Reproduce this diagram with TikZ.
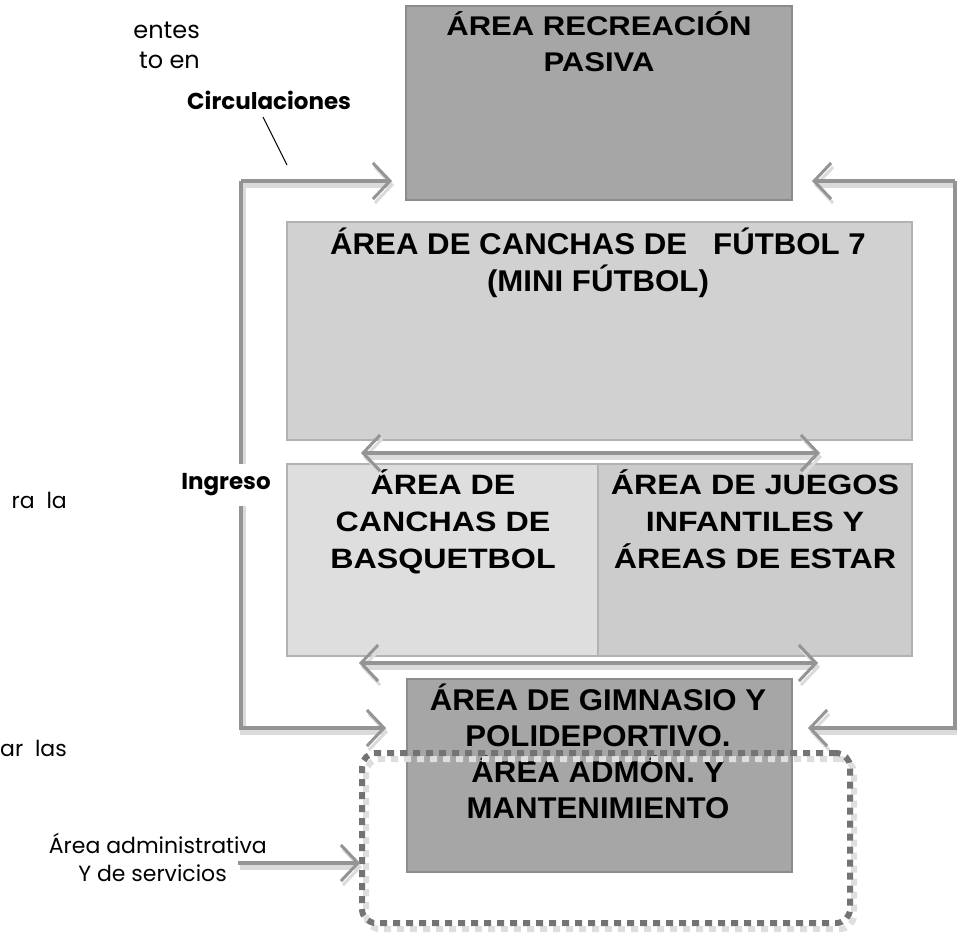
\documentclass[tikz,border=0pt]{standalone}
\usepackage{fontspec}
\setmainfont{Liberation Sans}
\newfontfamily\gothic{Poppins}
\newfontfamily\widesans[FakeStretch=1.15]{Liberation Sans}
\newfontfamily\narrowsans[FakeStretch=1.04]{Liberation Sans}
\usetikzlibrary{arrows.meta}

\tikzset{
  zone/.style={draw=black!30,line width=1.5pt,inner sep=0pt},
  darkzone/.style={zone,fill=black!35,draw=black!45},
  title/.style={anchor=north,align=center,inner sep=0pt},
  widetitle/.style={title,font=\widesans\bfseries\fontsize{27}{36}\selectfont},
  narrowtitle/.style={title,font=\narrowsans\bfseries\fontsize{30}{37}\selectfont},
  note/.style={inner sep=0pt,font=\gothic\fontsize{22}{26}\selectfont},
  boldnote/.style={inner sep=0pt,font=\gothic\bfseries\fontsize{23}{28}\selectfont},
  flow/.style={draw=black!42,line width=3.5pt,
    preaction={draw=black!14,line width=6pt,transform canvas={shift={(2pt,-4pt)}}}},
  flowto/.style={flow,-{Straight Barb[length=17pt,width=36pt,line width=3pt]}},
  twoway/.style={flow,{Straight Barb[length=17pt,width=36pt,line width=3pt]}-{Straight Barb[length=17pt,width=36pt,line width=3pt]}}
}

\begin{document}
\begin{tikzpicture}[x=1pt,y=-1pt]
\useasboundingbox (0,0) rectangle (957,932);

% texto del documento
\node[note,anchor=east,font=\gothic\fontsize{24}{28}\selectfont] (entes) at (200,30) {entes};
\node[note,anchor=east,font=\gothic\fontsize{24}{28}\selectfont] (toen) at (200,60) {to en};
\node[note,anchor=east] (rala) at (67,500) {ra\ \ la};
\node[note,anchor=east] (arlas) at (67,748) {ar\ \ las};

% zonas
\node[darkzone,minimum width=386,minimum height=194] (pasiva) at (599,103) {};
\node[zone,fill=black!18,minimum width=625,minimum height=218] (futbol) at (599.5,331) {};
\node[zone,fill=black!13,minimum width=311,minimum height=192] (basquet) at (442.5,560) {};
\node[zone,fill=black!20,minimum width=314,minimum height=192] (juegos) at (755,560) {};
\node[darkzone,minimum width=385,minimum height=193] (gimnasio) at (599.5,775.5) {};

\node[widetitle] (tpasiva) at (599,11) {ÁREA RECREACIÓN\\PASIVA};
\node[narrowtitle] (tfutbol) at (598,228) {ÁREA DE CANCHAS DE \ \ FÚTBOL 7\\(MINI FÚTBOL)};
\node[widetitle,font=\widesans\bfseries\fontsize{28}{37}\selectfont] (tbasquet) at (443,469) {ÁREA DE\\CANCHAS DE\\BASQUETBOL};
\node[widetitle,font=\widesans\bfseries\fontsize{28}{37}\selectfont] (tjuegos) at (755,469) {ÁREA DE JUEGOS\\INFANTILES Y\\ÁREAS DE ESTAR};
\node[narrowtitle,font=\narrowsans\bfseries\fontsize{30}{36}\selectfont] (tgimnasio) at (598,684) {ÁREA DE GIMNASIO Y\\POLIDEPORTIVO.\\ÁREA ADMÓN. Y\\MANTENIMIENTO};

% area administrativa punteada
\node[draw=black!13,line width=6pt,dash pattern=on 7pt off 6pt,rounded corners=14pt,
  minimum width=488,minimum height=170,transform canvas={shift={(2pt,-3pt)}}] (adminsombra) at (606,838) {};
\node[draw=black!55,line width=6pt,dash pattern=on 7pt off 6pt,rounded corners=14pt,
  minimum width=488,minimum height=170] (admin) at (606,838) {};

% circulaciones
\coordinate (lt) at (241,181);
\coordinate (lb) at (241,728);
\coordinate (rt) at (955,181);
\coordinate (rb) at (955,728);
\coordinate (pin) at (392,181);
\coordinate (pinr) at (812,181);
\coordinate (gin) at (386,728);
\coordinate (ginr) at (808,728);
\draw[flowto] (lt) -- (pin);
\draw[flowto] (lt) -- (lb) -- (gin);
\draw[flowto] (rt) -- (pinr);
\draw[flowto] (rt) -- (rb) -- (ginr);
\coordinate (a1) at (361,453);
\coordinate (b1) at (820,453);
\coordinate (a2) at (359,663);
\coordinate (b2) at (818,663);
\draw[twoway] (a1) -- (b1);
\draw[twoway] (a2) -- (b2);

\node[boldnote,fill=white,inner xsep=4pt,inner ysep=10pt] (ingreso) at (226,485) {Ingreso};
\node[boldnote,anchor=west] (circ) at (187,100) {Circulaciones};
\coordinate (c1) at (263,117);
\coordinate (c2) at (287,165);
\draw[line width=1pt] (c1) -- (c2);

\node[note,anchor=east] (admtext) at (267,843) {Área administrativa};
\node[note,anchor=east] (servtext) at (227,873) {Y de servicios};
\coordinate (s1) at (238,863);
\coordinate (s2) at (360,863);
\draw[flowto] (s1) -- (s2);
\end{tikzpicture}
\end{document}
